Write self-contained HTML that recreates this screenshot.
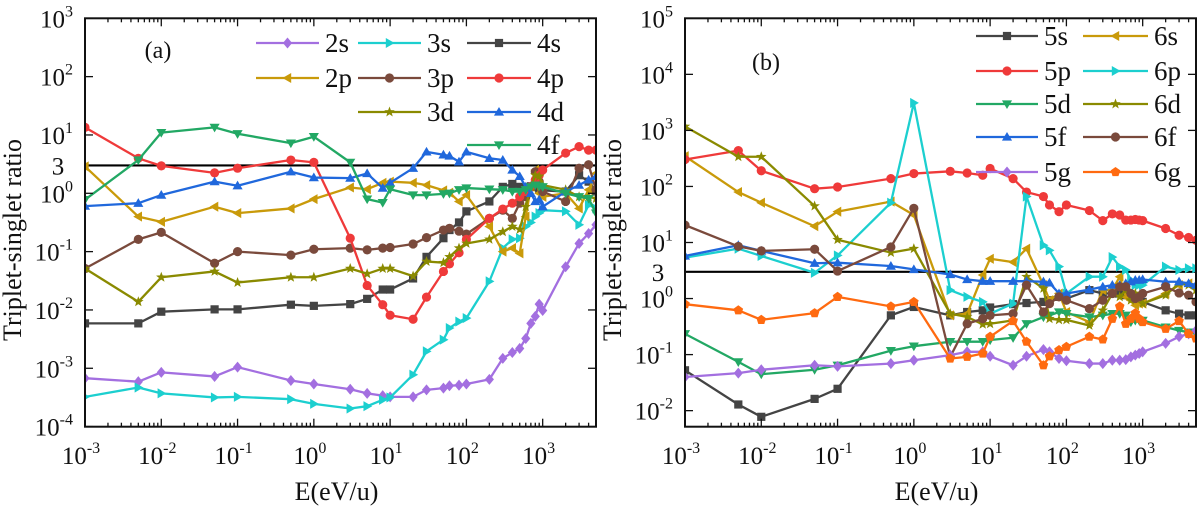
<!DOCTYPE html>
<html><head><meta charset="utf-8"><style>
html,body{margin:0;padding:0;background:#fff;}
svg{display:block;}
svg text{font-family:"Liberation Serif","DejaVu Serif",serif;}
</style></head><body>
<svg id="chart" width="1200" height="514" viewBox="0 0 1200 514" font-family="Liberation Serif, DejaVu Serif, serif"></svg>
<script>
// Energies (eV/u)
const energies = [0.001,0.005,0.01,0.05,0.1,0.5,1,3,5,8,10,20,30,50,60,80,100,200,300,400,500,600,700,800,900,1000,2000,3000,4000,5000];
// log10(triplet/singlet ratio) — panel (a)
const logRatio2s = [-3.17,-3.23,-3.07,-3.14,-2.98,-3.21,-3.27,-3.36,-3.43,-3.47,-3.49,-3.49,-3.37,-3.34,-3.3,-3.29,-3.27,-3.19,-2.83,-2.73,-2.66,-2.49,-2.23,-2.11,-1.9,-2.01,-1.26,-0.86,-0.69,-0.54];
const logRatio3s = [-3.49,-3.33,-3.43,-3.5,-3.49,-3.53,-3.61,-3.69,-3.65,-3.54,-3.5,-3.11,-2.71,-2.51,-2.31,-2.2,-2.14,-1.51,-0.94,-0.79,-0.77,-0.57,-0.5,-0.4,-0.34,-0.29,-0.31,-0.54,-0.2,-0.26];
const logRatio4s = [-2.23,-2.23,-2.03,-1.99,-1.99,-1.91,-1.93,-1.9,-1.81,-1.65,-1.65,-1.46,-1.09,-0.77,-0.63,-0.5,-0.31,-0.14,0.11,0.16,0.11,0.1,0.12,0.11,0.08,0.05,0.03,0.31,0.2,0.03];
const logRatio2p = [0.46,-0.4,-0.49,-0.23,-0.34,-0.26,-0.1,0.1,0.07,0.18,0.2,0.18,0.14,0.05,0.01,-0.14,-0.03,-0.57,-1.0,-0.94,-1.03,-0.4,0.11,0.4,0.0,-0.06,0.0,-0.26,0.06,0.34];
const logRatio3p = [-1.29,-0.79,-0.67,-1.2,-1.0,-1.06,-0.96,-0.94,-0.97,-0.94,-0.93,-0.87,-0.76,-0.63,-0.6,-0.65,-0.7,-0.43,-0.29,-0.43,-0.17,-0.06,0.11,0.37,0.2,0.03,-0.14,0.43,0.49,0.06];
const logRatio4p = [1.13,0.6,0.47,0.35,0.43,0.57,0.53,-0.77,-1.58,-1.91,-2.09,-2.16,-1.78,-1.34,-1.21,-1.02,-0.79,-0.43,-0.27,-0.17,-0.06,0.03,0.11,0.23,0.31,0.4,0.69,0.8,0.74,0.74];
const logRatio3d = [-1.29,-1.86,-1.44,-1.34,-1.53,-1.44,-1.44,-1.29,-1.38,-1.29,-1.29,-1.42,-1.17,-1.19,-1.09,-0.94,-0.86,-0.79,-0.66,-0.57,-0.62,-0.23,0.11,0.31,0.29,0.14,0.06,-0.06,-0.06,-0.09];
const logRatio4d = [-0.22,-0.17,-0.03,0.2,0.13,0.37,0.27,0.26,0.34,0.09,0.18,0.43,0.71,0.66,0.64,0.54,0.71,0.6,0.57,0.4,0.29,0.11,0.0,-0.14,-0.11,-0.23,0.03,0.14,0.23,0.29];
const logRatio4f = [-0.11,0.57,1.04,1.13,1.02,0.86,0.97,0.53,-0.1,-0.16,0.07,-0.03,-0.03,-0.01,0.0,0.06,0.09,0.07,0.06,0.03,0.03,0.06,0.11,0.14,0.12,0.11,0.0,-0.06,-0.09,-0.34];
// panel (b)
const logRatio5s = [-1.28,-1.89,-2.11,-1.79,-1.61,-0.3,-0.15,-0.3,-0.24,-0.21,-0.16,-0.1,-0.08,-0.06,-0.03,0.03,0.0,0.15,0.09,0.09,0.09,0.06,0.03,0.0,-0.03,-0.06,-0.21,-0.27,-0.3,-0.3];
const logRatio5p = [2.48,2.64,2.28,1.96,1.99,2.14,2.23,2.27,2.24,2.2,2.32,2.14,1.9,1.82,1.67,1.55,1.67,1.57,1.39,1.51,1.49,1.4,1.4,1.41,1.4,1.39,1.25,1.13,1.09,1.04];
const logRatio5d = [-0.63,-1.13,-1.35,-1.27,-1.19,-0.93,-0.85,-0.77,-0.77,-0.77,-0.74,-0.7,-0.45,-0.33,-0.3,-0.24,-0.27,-0.33,-0.3,-0.27,-0.27,-0.3,-0.42,-0.39,-0.39,-0.39,-0.51,-0.57,-0.6,-0.63];
const logRatio5f = [0.76,0.95,0.85,0.63,0.64,0.58,0.52,0.43,0.34,0.31,0.31,0.31,0.31,0.3,0.28,0.09,0.09,0.16,0.21,0.24,0.24,0.27,0.3,0.33,0.33,0.34,0.3,0.3,0.27,0.24];
const logRatio5g = [-1.4,-1.33,-1.27,-1.19,-1.21,-1.16,-1.1,-1.01,-0.95,-0.95,-1.03,-1.19,-1.03,-0.91,-0.95,-1.07,-1.11,-1.16,-1.16,-1.1,-1.1,-1.09,-1.04,-1.01,-0.98,-0.95,-0.8,-0.68,-0.63,-0.57];
const logRatio6s = [2.54,1.9,1.71,1.29,1.55,1.73,1.49,-0.3,-0.27,0.42,0.71,0.65,0.89,0.24,-0.03,0.09,-0.24,-0.42,0.15,0.15,0.39,0.03,-0.03,-0.12,-0.09,-0.09,0.09,0.24,0.27,0.24];
const logRatio6p = [0.73,0.89,0.76,0.46,0.77,1.71,3.49,0.15,0.03,-0.06,-0.27,-0.09,1.82,0.95,0.86,0.57,0.09,0.39,0.39,0.74,0.57,0.51,0.33,0.24,0.24,0.24,0.57,0.51,0.54,0.54];
const logRatio6d = [3.07,2.53,2.53,1.65,1.05,0.82,0.89,-0.27,-0.33,-0.46,-0.45,-0.39,0.39,0.18,-0.36,-0.38,-0.38,-0.48,-0.21,0.09,0.03,0.15,-0.03,0.09,0.0,-0.09,0.06,0.27,0.24,0.15];
const logRatio6f = [1.31,0.93,0.85,0.88,0.49,0.92,1.61,-1.04,-0.45,-0.36,-0.3,-0.27,0.24,-0.24,-0.09,0.03,-0.03,-0.18,-0.03,0.09,0.21,0.21,0.09,0.0,0.03,0.09,0.21,0.1,0.06,-0.06];
const logRatio6g = [-0.1,-0.21,-0.38,-0.26,0.03,-0.14,-0.06,-1.07,-1.04,-0.98,-0.68,-0.4,-0.77,-1.19,-1.03,-0.92,-0.86,-0.68,-0.73,-0.36,-0.14,-0.45,-0.36,-0.26,-0.36,-0.42,-0.54,-0.4,-0.63,-0.71];
const xTickExps = [-3,-2,-1,0,1,2,3];
const yTickExpsA = [3,2,1,0,-1,-2,-3,-4];
const yTickExpsB = [5,4,3,2,1,0,-1,-2];
const refRatio = 3;

const NS='http://www.w3.org/2000/svg';
const svg=document.getElementById('chart');
const FF='Liberation Serif, DejaVu Serif, serif';
function mk(tag,attrs,parent){const e=document.createElementNS(NS,tag);for(const k in attrs)e.setAttribute(k,attrs[k]);if(tag==='text')e.setAttribute('font-family',FF);(parent||svg).appendChild(e);return e;}

const C={purple:'#a36fe0',cyan:'#1ccfcf',gray:'#444444',gold:'#c99a0a',brown:'#7a4a3c',red:'#ef3a3a',olive:'#8a8a00',blue:'#2068dc',green:'#22a864',orange:'#ff6a10'};

function marker(g,shape,x,y,color){
  const r=4.6;let el;
  if(shape==='circle'){el=mk('circle',{cx:x,cy:y,r:r,fill:color},g);}
  else if(shape==='square'){el=mk('rect',{x:x-r+0.5,y:y-r+0.5,width:2*r-1,height:2*r-1,fill:color},g);}
  else{
    let p;
    if(shape==='diamond')p=[[0,-r*1.2],[r,0],[0,r*1.2],[-r,0]];
    else if(shape==='up')p=[[0,-r*1.1],[r*1.1,r*0.8],[-r*1.1,r*0.8]];
    else if(shape==='down')p=[[0,r*1.1],[r*1.1,-r*0.8],[-r*1.1,-r*0.8]];
    else if(shape==='right')p=[[r*1.1,0],[-r*0.8,-r*1.1],[-r*0.8,r*1.1]];
    else if(shape==='left')p=[[-r*1.1,0],[r*0.8,-r*1.1],[r*0.8,r*1.1]];
    else if(shape==='star'){p=[];for(let i=0;i<10;i++){const a=-Math.PI/2+i*Math.PI/5;const rr=i%2?r*0.5:r*1.2;p.push([rr*Math.cos(a),rr*Math.sin(a)]);}}
    else if(shape==='pent'){p=[];for(let i=0;i<5;i++){const a=-Math.PI/2+i*2*Math.PI/5;p.push([r*1.1*Math.cos(a),r*1.1*Math.sin(a)]);}}
    el=mk('polygon',{points:p.map(q=>(x+q[0])+','+(y+q[1])).join(' '),fill:color},g);
  }
  return el;
}

function panel(cfg){
  const L=cfg.left,R=cfg.right,T=cfg.top,B=cfg.bottom;
  const xMin=-3,xMax=Math.log10(5000);
  const xs=v=>L+(Math.log10(v)-xMin)/(xMax-xMin)*(R-L);
  const xe=e=>L+(e-xMin)/(xMax-xMin)*(R-L);
  const ys=lg=>T+(cfg.yTop-lg)*cfg.dec;
  const g=mk('g',{});
  
  
  const cid='clip'+cfg.id;
  const cp=mk('clipPath',{id:cid},g);mk('rect',{x:L,y:T,width:R-L,height:B-T},cp);
  const rl=mk('line',{x1:L,x2:R,y1:ys(Math.log10(refRatio)),y2:ys(Math.log10(refRatio)),stroke:'#000','stroke-width':2.2},g);
  
  
  const sg=mk('g',{'clip-path':'url(#'+cid+')'},g);
  cfg.series.forEach(s=>{
    const grp=mk('g',{},sg);
    
    
    const pts=energies.map((e,i)=>xs(e)+','+ys(s.data[i])).join(' ');
    mk('polyline',{points:pts,fill:'none',stroke:s.color,'stroke-width':2.3,'stroke-linejoin':'round'},grp);
    energies.forEach((e,i)=>{
      const m=marker(grp,s.shape,xs(e),ys(s.data[i]),s.color);
      
      
    });
  });
  const fr=mk('rect',{x:L,y:T,width:R-L,height:B-T,fill:'none',stroke:'#111','stroke-width':2},g);
  
  
  for(let e=-3;e<=3;e++){
    for(let k=1;k<10;k++){
      const v=e+Math.log10(k);if(v>xMax)break;
      const x=xe(v),len=k===1?8:4;
      mk('line',{x1:x,x2:x,y1:B,y2:B-len,stroke:'#111','stroke-width':1.3},g);
      mk('line',{x1:x,x2:x,y1:T,y2:T+len,stroke:'#111','stroke-width':1.3},g);
    }
  }
  xTickExps.forEach(e=>{
    const t=mk('text',{x:xe(e)-4,y:464,'text-anchor':'middle','font-size':25,fill:'#111'},g);
    
    
    t.textContent='10';
    const s=mk('tspan',{dy:-11,'font-size':16},t);s.textContent=String(e);
  });
  cfg.yTicks.forEach(e=>{
    const y=ys(e);
    mk('line',{x1:L,x2:L+8,y1:y,y2:y,stroke:'#111','stroke-width':1.3},g);
    mk('line',{x1:R,x2:R-8,y1:y,y2:y,stroke:'#111','stroke-width':1.3},g);
    const t=mk('text',{x:L-12,y:y+9,'text-anchor':'end','font-size':25,fill:'#111'},g);
    
    
    t.textContent='10';
    const s=mk('tspan',{dy:-11,'font-size':16},t);s.textContent=String(e);
  });
  const t3=mk('text',{x:L-27,y:ys(Math.log10(3))+9,'text-anchor':'middle','font-size':25,fill:'#111'},g);
  
  
  t3.textContent='3';
  const xt=mk('text',{x:(L+R)/2-4,y:500,'text-anchor':'middle','font-size':26,fill:'#111'},g);
  
  
  xt.textContent='E(eV/u)';
  const yt=mk('text',{x:0,y:0,'text-anchor':'middle','font-size':26,fill:'#111',transform:'translate('+(L-64)+',240) rotate(-90)'},g);
  
  
  yt.textContent='Triplet-singlet ratio';
  const pl=mk('text',{x:cfg.labelPos[0],y:cfg.labelPos[1],'text-anchor':'middle','font-size':24,fill:'#111'},g);
  
  
  pl.textContent=cfg.panelLabel;
  cfg.series.forEach(s=>{
    const lg=mk('g',{},g);
    
    
    const [x1,x2,y]=s.leg;
    mk('line',{x1:x1,x2:x2,y1:y,y2:y,stroke:s.color,'stroke-width':2.3},lg);
    marker(lg,s.shape,(x1+x2)/2,y,s.color);
    const t=mk('text',{x:x2+6,y:y+9,'font-size':27,fill:'#111'},lg);
    t.textContent=s.label;
  });
}

panel({id:'a',name:'panel-a',left:85,right:596,top:18.3,bottom:426.7,yTop:3,dec:58.33,yTicks:yTickExpsA,panelLabel:'(a)',labelPos:[158,58],
  series:[
    {label:'2s',data:logRatio2s,color:C.purple,shape:'diamond',leg:[256,319,43]},
    {label:'3s',data:logRatio3s,color:C.cyan,shape:'right',leg:[358,421,43]},
    {label:'4s',data:logRatio4s,color:C.gray,shape:'square',leg:[467,531,43]},
    {label:'2p',data:logRatio2p,color:C.gold,shape:'left',leg:[256,319,78]},
    {label:'3p',data:logRatio3p,color:C.brown,shape:'circle',leg:[358,421,78]},
    {label:'4p',data:logRatio4p,color:C.red,shape:'circle',leg:[467,531,78]},
    {label:'3d',data:logRatio3d,color:C.olive,shape:'star',leg:[358,421,112]},
    {label:'4d',data:logRatio4d,color:C.blue,shape:'up',leg:[467,531,112]},
    {label:'4f',data:logRatio4f,color:C.green,shape:'down',leg:[467,531,145]}
  ]});
panel({id:'b',name:'panel-b',left:685,right:1196,top:18.3,bottom:426.7,yTop:5,dec:56.05,yTicks:yTickExpsB,panelLabel:'(b)',labelPos:[766,70],
  series:[
    {label:'5s',data:logRatio5s,color:C.gray,shape:'square',leg:[976,1038,36]},
    {label:'6s',data:logRatio6s,color:C.gold,shape:'left',leg:[1083,1148,36]},
    {label:'5p',data:logRatio5p,color:C.red,shape:'circle',leg:[976,1038,71]},
    {label:'6p',data:logRatio6p,color:C.cyan,shape:'right',leg:[1083,1148,71]},
    {label:'5d',data:logRatio5d,color:C.green,shape:'down',leg:[976,1038,104]},
    {label:'6d',data:logRatio6d,color:C.olive,shape:'star',leg:[1083,1148,104]},
    {label:'5f',data:logRatio5f,color:C.blue,shape:'up',leg:[976,1038,137]},
    {label:'6f',data:logRatio6f,color:C.brown,shape:'circle',leg:[1083,1148,137]},
    {label:'5g',data:logRatio5g,color:C.purple,shape:'diamond',leg:[976,1038,172]},
    {label:'6g',data:logRatio6g,color:C.orange,shape:'pent',leg:[1083,1148,172]}
  ]});
</script>
</body></html>
